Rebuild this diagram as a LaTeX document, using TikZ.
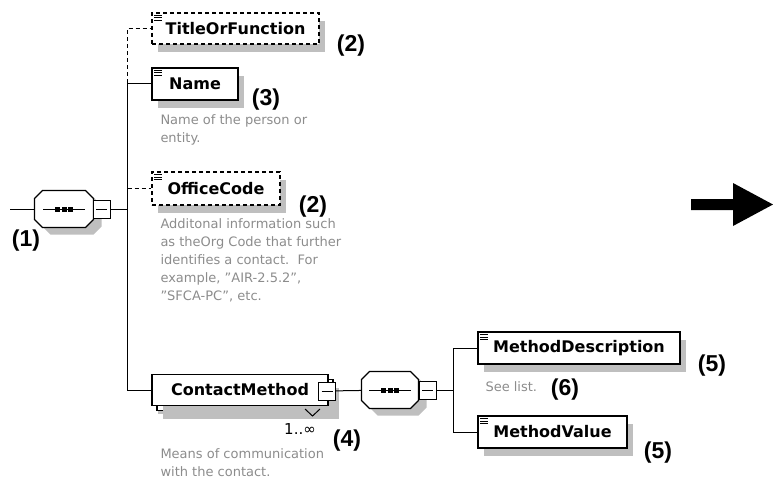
\documentclass[tikz,border=0pt]{standalone}
\usepackage{fontspec}
\setmainfont{DejaVu Sans}
\newfontfamily\numfont{Liberation Sans}
\usetikzlibrary{shadows}

\newcommand\docmark[1]{%
  \foreach \k in {0,1,2}
    \draw[line width=0.8pt] ([xshift=3pt,yshift={-(3+2.5*\k)*1pt}]#1.north west) -- ++(8,0);}
\newcommand\octpath[1]{([xshift=8pt]#1.north west) -- ([xshift=-8pt]#1.north east) -- ([yshift=-8pt]#1.north east) -- ([yshift=8pt]#1.south east) -- ([xshift=-8pt]#1.south east) -- ([xshift=8pt]#1.south west) -- ([yshift=8pt]#1.south west) -- ([yshift=-8pt]#1.north west) -- cycle}

\begin{document}
\begin{tikzpicture}[x=1pt, y=-1pt, line width=1pt,
	elem/.style={rectangle, draw, line width=1.2pt, fill=white, inner sep=0pt, font=\bfseries\fontsize{16}{18}\selectfont, drop shadow={shadow xshift=6pt, shadow yshift=-8pt, fill=black!25, opacity=1}},
	opt/.style={elem, dash pattern=on 4pt off 3pt},
	optline/.style={dash pattern=on 4pt off 3pt},
	seq/.style={rectangle, minimum width=58, minimum height=36, inner sep=0pt},
	collapse/.style={rectangle, draw, fill=white, minimum width=17, minimum height=18, inner sep=0pt, path picture={\draw ([xshift=3pt]path picture bounding box.west) -- ([xshift=-3pt]path picture bounding box.east);}},
	note/.style={align=left, anchor=north west, inner sep=0pt, text=black!45, font=\fontsize{13}{18}\selectfont},
	num/.style={font=\numfont\bfseries\fontsize{23}{23}\selectfont}]
			\useasboundingbox (0,0) rectangle (773,484);
			\coordinate (in1) at (10,209);
			\coordinate (j1) at (127,209);
			\coordinate (j2) at (453,390);
			
			\node[opt, minimum width=167, minimum height=31] (title) at (235.5,28.5) {TitleOrFunction};
			\node[elem, minimum width=86, minimum height=32] (name) at (195,84) {Name};
			\node[opt, minimum width=128, minimum height=33] (office) at (216,188.5) {OfficeCode};
			\node[elem, minimum width=176, minimum height=31, copy shadow={shadow xshift=5pt, shadow yshift=-5pt, draw=black, fill=white, solid}, drop shadow={shadow xshift=11pt, shadow yshift=-13pt, fill=black!25, opacity=1}] (cm) at (240,390) {ContactMethod\hspace{12pt}};
			\node[elem, minimum width=202, minimum height=32] (md) at (579,348) {MethodDescription};
			\node[elem, minimum width=149, minimum height=32] (mv) at (552.5,432) {MethodValue};
			\docmark{title} \docmark{name} \docmark{office} \docmark{md} \docmark{mv}
			
			\node[seq] (seq1) at (64,209) {};
			\node[seq, minimum width=56] (seq2) at (390,390) {};
			\foreach \s in {seq1, seq2} {
				\fill[black!25, transform canvas={xshift=8pt, yshift=-7pt}] \octpath{\s};
				\draw[line width=1.2pt, fill=white] \octpath{\s};
				\draw (\s.center) ++(-21,0) -- ++(42,0);
				\foreach \d in {-6.5, 0, 6.5}
					\fill ([shift={(\d-2.5,-2.5)}]\s.center) rectangle +(5,5);
			}
			\node[collapse] (col1) at (101.5,209) {};
			\node[collapse] (col2) at (327,391) {};
			\node[collapse] (col3) at (427.5,390) {};
			\draw (305,409) -- (312.5,416) -- (320,409);
			
			\path (in1) edge (seq1);
			\path (col1) edge (j1);
			\draw[optline] (j1) |- (title);
			\draw (j1) |- (name);
			\draw[optline] (j1) |- (office);
			\draw (j1) |- (cm);
			\path (col2) edge (seq2);
			\path (col3) edge (j2);
			\draw (j2) |- (md);
			\draw (j2) |- (mv);
			
			\node[note] (namenote) at (160,114) {Name of the person or\\entity.};
			\node[note] (officenote) at (160,218) {Additonal information such\\as theOrg Code that further\\identifies a contact.\ \ For\\example, "AIR-2.5.2",\\"SFCA-PC", etc.};
			\node[note] (cmnote) at (160,448) {Means of communication\\with the contact.};
			\node[note, anchor=west] (mdnote) at (485,387) {See list.};
			\node[font=\fontsize{15}{16}\selectfont] (mult) at (300,429) {1..∞};
			
			\node[num] (n1) at (26,241) {(1)};
			\node[num] (n2a) at (351,46) {(2)};
			\node[num] (n3) at (266,100) {(3)};
			\node[num] (n2b) at (313,207) {(2)};
			\node[num] (n4) at (347,441) {(4)};
			\node[num] (n5a) at (712,366) {(5)};
			\node[num] (n6) at (565,390) {(6)};
			\node[num] (n5b) at (658,453) {(5)};
			
			\fill (691,199) -- (733,199) -- (733,183) -- (773,204.5) -- (733,226) -- (733,210) -- (691,210) -- cycle;
\end{tikzpicture}
\end{document}
